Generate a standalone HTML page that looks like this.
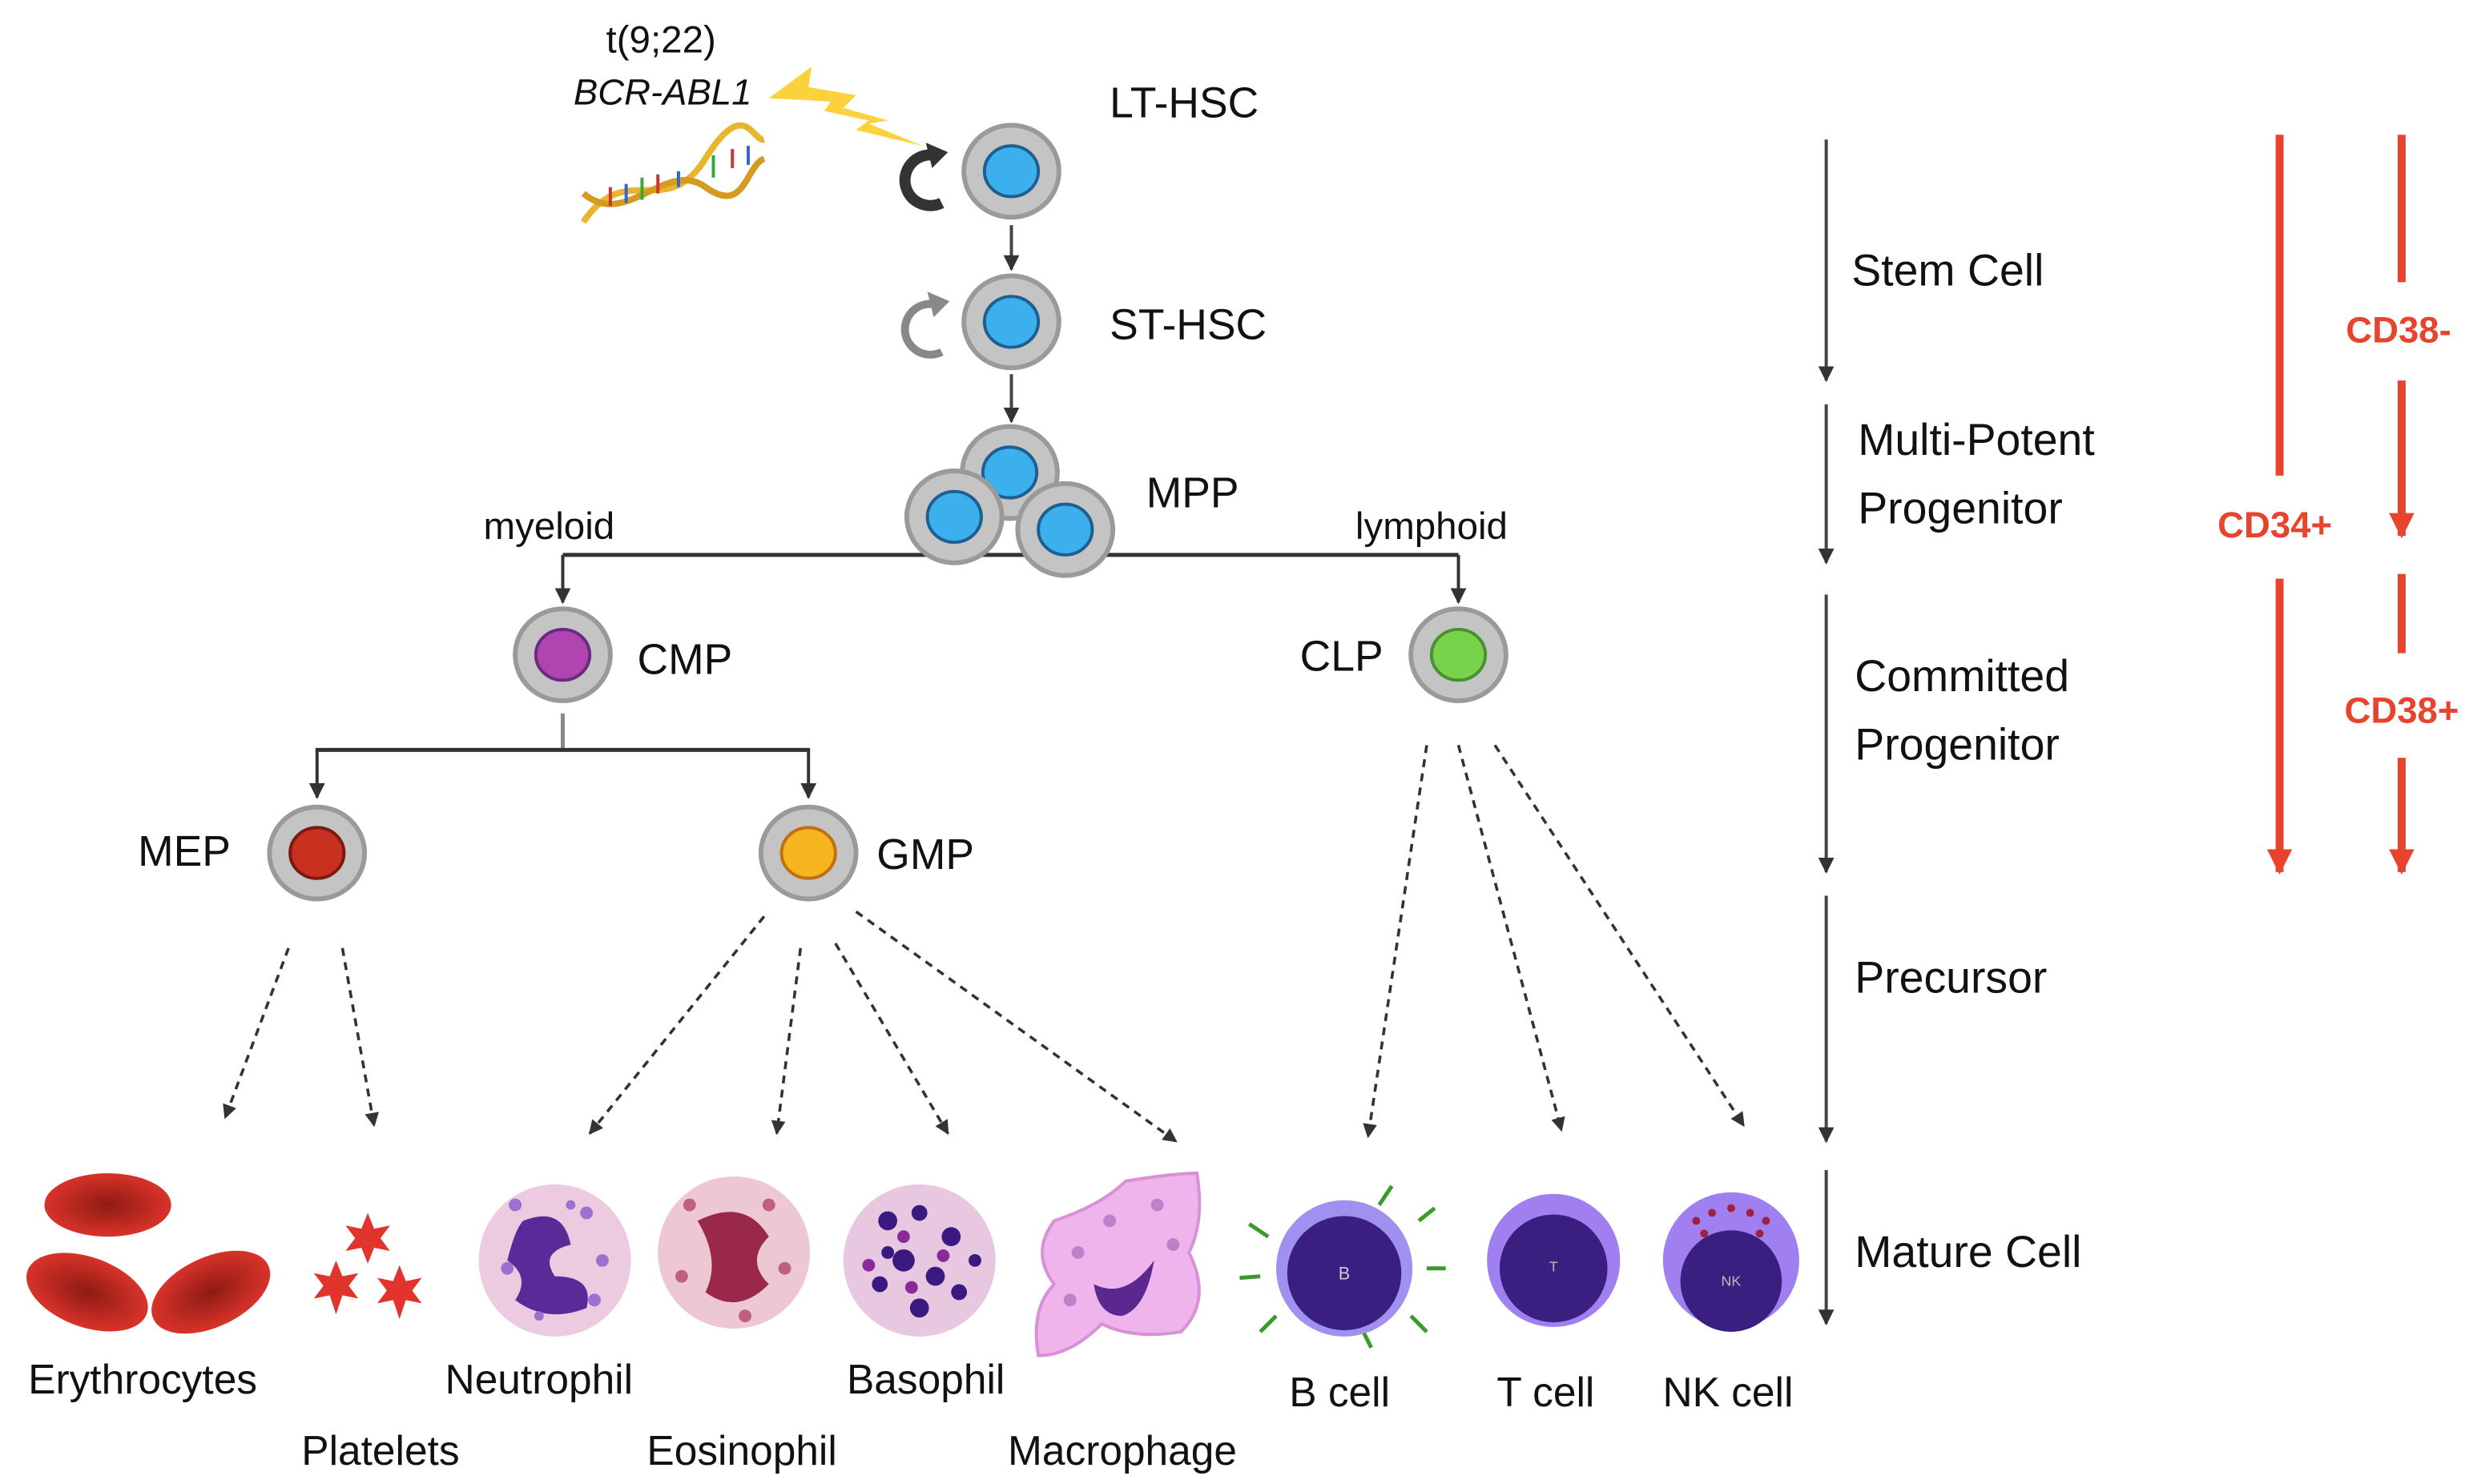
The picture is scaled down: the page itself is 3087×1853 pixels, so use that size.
<!DOCTYPE html>
<html><head><meta charset="utf-8"><style>
html,body{margin:0;padding:0;background:#fff;}
svg{display:block;}
text{font-family:"Liberation Sans",sans-serif;fill:#111;}
</style></head><body>
<svg width="3087" height="1853" viewBox="0 0 1560 936" preserveAspectRatio="none" xmlns="http://www.w3.org/2000/svg">
<defs>
<marker id="ah" viewBox="0 0 10 10" refX="9" refY="5" markerWidth="5" markerHeight="5" orient="auto"><path d="M0,0 L10,5 L0,10 z" fill="#333"/></marker>
<marker id="rh" viewBox="0 0 10 10" refX="9" refY="5" markerWidth="3.2" markerHeight="3.2" orient="auto"><path d="M0,0 L10,5 L0,10 z" fill="#e8432c"/></marker>
<g id="cell"><ellipse cx="0" cy="0" rx="30" ry="29" fill="#c4c4c4" stroke="#9a9a9a" stroke-width="3"/></g>
<radialGradient id="rbc" cx="50%" cy="50%" r="50%"><stop offset="0" stop-color="#8e1a12"/><stop offset="1" stop-color="#d8332a"/></radialGradient>
</defs>

<!-- top annotations -->
<text x="417" y="33" font-size="24" text-anchor="middle">t(9;22)</text>
<text x="418" y="66" font-size="23" font-style="italic" text-anchor="middle">BCR-ABL1</text>
<polygon points="485,62 512,42 510,55 540,60 532,68 560,76 548,78 582,92 540,82 548,76 520,70 524,64" fill="#fcd23c"/>
<!-- DNA -->
<g stroke-width="4" fill="none">
<path d="M368,140 C395,100 420,140 445,100 S475,90 482,88" stroke="#e7b62c"/>
<path d="M368,122 C395,145 420,100 445,118 S470,105 482,100" stroke="#d59a20"/>
</g>
<g stroke-width="2">
<line x1="385" y1="118" x2="385" y2="130" stroke="#c33"/><line x1="395" y1="116" x2="395" y2="128" stroke="#36c"/>
<line x1="405" y1="112" x2="405" y2="126" stroke="#3a3"/><line x1="415" y1="110" x2="415" y2="122" stroke="#c33"/>
<line x1="428" y1="108" x2="428" y2="118" stroke="#36c"/><line x1="450" y1="98" x2="450" y2="112" stroke="#3a3"/>
<line x1="462" y1="94" x2="462" y2="106" stroke="#c33"/><line x1="472" y1="92" x2="472" y2="104" stroke="#36c"/>
</g>

<!-- LT-HSC -->
<path d="M590,98 A16,16 0 1 0 594,128" fill="none" stroke="#333" stroke-width="7"/>
<polygon points="584,90 598,96 588,106" fill="#333"/>
<use href="#cell" x="638" y="108"/>
<ellipse cx="638" cy="108" rx="17" ry="16" fill="#3cb0ec" stroke="#1e5e90" stroke-width="2"/>
<text x="700" y="74" font-size="27">LT-HSC</text>
<line x1="638" y1="142" x2="638" y2="170" stroke="#444" stroke-width="2" marker-end="url(#ah)"/>

<!-- ST-HSC -->
<path d="M590,192 A16,16 0 1 0 594,222" fill="none" stroke="#888" stroke-width="5"/>
<polygon points="585,184 599,190 589,200" fill="#888"/>
<use href="#cell" x="638" y="203"/>
<ellipse cx="638" cy="203" rx="17" ry="16" fill="#3cb0ec" stroke="#1e5e90" stroke-width="2"/>
<text x="700" y="214" font-size="27">ST-HSC</text>
<line x1="638" y1="236" x2="638" y2="266" stroke="#444" stroke-width="2" marker-end="url(#ah)"/>

<!-- branch line -->
<line x1="355" y1="350" x2="920" y2="350" stroke="#333" stroke-width="2.5"/>
<line x1="355" y1="350" x2="355" y2="380" stroke="#333" stroke-width="2" marker-end="url(#ah)"/>
<line x1="920" y1="350" x2="920" y2="380" stroke="#333" stroke-width="2" marker-end="url(#ah)"/>

<!-- MPP -->
<use href="#cell" x="637" y="298"/><ellipse cx="637" cy="298" rx="17" ry="16" fill="#3cb0ec" stroke="#1e5e90" stroke-width="2"/>
<use href="#cell" x="602" y="326"/><ellipse cx="602" cy="326" rx="17" ry="16" fill="#3cb0ec" stroke="#1e5e90" stroke-width="2"/>
<use href="#cell" x="672" y="334"/><ellipse cx="672" cy="334" rx="17" ry="16" fill="#3cb0ec" stroke="#1e5e90" stroke-width="2"/>
<text x="723" y="320" font-size="27">MPP</text>
<text x="305" y="340" font-size="24">myeloid</text>
<text x="855" y="340" font-size="24">lymphoid</text>

<!-- CMP / CLP -->
<use href="#cell" x="355" y="413"/><ellipse cx="355" cy="413" rx="17" ry="16" fill="#b044b0" stroke="#6a2a80" stroke-width="2"/>
<text x="402" y="425" font-size="27">CMP</text>
<use href="#cell" x="920" y="413"/><ellipse cx="920" cy="413" rx="17" ry="16" fill="#78d24c" stroke="#4a9030" stroke-width="2"/>
<text x="820" y="423" font-size="27">CLP</text>

<line x1="355" y1="450" x2="355" y2="473" stroke="#888" stroke-width="2.5"/>
<line x1="199" y1="473" x2="511" y2="473" stroke="#333" stroke-width="2.5"/>
<line x1="200" y1="473" x2="200" y2="503" stroke="#333" stroke-width="2" marker-end="url(#ah)"/>
<line x1="510" y1="473" x2="510" y2="503" stroke="#333" stroke-width="2" marker-end="url(#ah)"/>

<!-- MEP / GMP -->
<use href="#cell" x="200" y="538"/><ellipse cx="200" cy="538" rx="17" ry="16" fill="#c83020" stroke="#7a1a10" stroke-width="2"/>
<text x="87" y="546" font-size="27">MEP</text>
<use href="#cell" x="510" y="538"/><ellipse cx="510" cy="538" rx="17" ry="16" fill="#f6b41e" stroke="#c07010" stroke-width="2"/>
<text x="553" y="548" font-size="27">GMP</text>

<!-- dashed arrows -->
<g stroke="#333" stroke-width="1.8" stroke-dasharray="5,4" marker-end="url(#ah)">
<line x1="182" y1="598" x2="142" y2="705"/>
<line x1="216" y1="598" x2="236" y2="710"/>
<line x1="482" y1="578" x2="372" y2="715"/>
<line x1="505" y1="598" x2="490" y2="715"/>
<line x1="527" y1="595" x2="598" y2="715"/>
<line x1="540" y1="575" x2="742" y2="720"/>
<line x1="900" y1="470" x2="863" y2="717"/>
<line x1="920" y1="470" x2="985" y2="713"/>
<line x1="943" y1="470" x2="1100" y2="710"/>
</g>

<!-- mature cells -->
<ellipse cx="68" cy="760" rx="40" ry="20" fill="url(#rbc)"/>
<ellipse cx="55" cy="815" rx="40" ry="22" fill="url(#rbc)" transform="rotate(20 55 815)"/>
<ellipse cx="133" cy="815" rx="40" ry="22" fill="url(#rbc)" transform="rotate(-25 133 815)"/>
<g fill="#e0342c">
<polygon points="232,765 236,775 246,773 240,781 246,789 236,787 232,797 228,787 218,789 224,781 218,773 228,775"/>
<polygon points="212,795 216,805 226,803 220,811 226,819 216,817 212,829 208,817 198,819 204,811 198,803 208,805"/>
<polygon points="252,798 256,808 266,806 260,814 266,822 256,820 252,832 248,820 238,822 244,814 238,806 248,808"/>
</g>
<!-- neutrophil -->
<circle cx="350" cy="795" r="48" fill="#eccbe0"/>
<path d="M330,770 q25,-10 30,15 q-20,5 -10,20 q25,0 20,20 q-25,10 -45,-5 q10,-15 -5,-25 q5,-20 10,-25z" fill="#5a2a98"/>
<g fill="#9a70d0"><circle cx="325" cy="760" r="4"/><circle cx="370" cy="765" r="4"/><circle cx="380" cy="795" r="4"/><circle cx="320" cy="800" r="4"/><circle cx="360" cy="760" r="3"/><circle cx="375" cy="820" r="4"/><circle cx="340" cy="830" r="3"/></g>
<!-- eosinophil -->
<circle cx="463" cy="790" r="48" fill="#edc8d4"/>
<path d="M440,770 q30,-15 45,10 q-15,15 0,30 q-20,20 -40,5 q10,-20 -5,-45z" fill="#9a2848"/>
<g fill="#c0607c"><circle cx="435" cy="760" r="4"/><circle cx="485" cy="760" r="4"/><circle cx="430" cy="805" r="4"/><circle cx="495" cy="800" r="4"/><circle cx="470" cy="830" r="4"/></g>
<!-- basophil -->
<circle cx="580" cy="795" r="48" fill="#e8c8e0"/>
<g fill="#3a1a80"><circle cx="560" cy="770" r="6"/><circle cx="580" cy="765" r="5"/><circle cx="600" cy="780" r="6"/><circle cx="570" cy="795" r="7"/><circle cx="590" cy="805" r="6"/><circle cx="555" cy="810" r="5"/><circle cx="605" cy="815" r="5"/><circle cx="580" cy="825" r="6"/><circle cx="560" cy="790" r="4"/><circle cx="615" cy="795" r="4"/></g>
<g fill="#8a2a9a"><circle cx="570" cy="780" r="4"/><circle cx="595" cy="792" r="4"/><circle cx="575" cy="812" r="4"/><circle cx="548" cy="798" r="4"/></g>
<!-- macrophage -->
<path d="M665,770 q30,-10 45,-25 q30,-5 45,-5 q5,30 -5,50 q15,30 -5,50 q-30,5 -50,-5 q-20,20 -40,20 q-5,-30 10,-45 q-15,-20 0,-40z" fill="#f0b4ec" stroke="#d890d8" stroke-width="2"/>
<path d="M690,810 q20,10 38,-15 q-5,30 -20,35 q-15,0 -18,-20z" fill="#5a2890"/>
<g fill="#c080c8"><circle cx="700" cy="770" r="4"/><circle cx="730" cy="760" r="4"/><circle cx="680" cy="790" r="4"/><circle cx="740" cy="785" r="4"/><circle cx="675" cy="820" r="4"/></g>
<!-- B cell -->
<g stroke="#3a9a2a" stroke-width="2.5"><line x1="800" y1="780" x2="788" y2="772"/><line x1="795" y1="805" x2="782" y2="806"/><line x1="805" y1="830" x2="795" y2="840"/><line x1="895" y1="770" x2="905" y2="762"/><line x1="900" y1="800" x2="912" y2="800"/><line x1="890" y1="830" x2="900" y2="840"/><line x1="870" y1="760" x2="878" y2="748"/><line x1="860" y1="840" x2="865" y2="850"/></g>
<circle cx="848" cy="800" r="43" fill="#a090f0"/>
<circle cx="848" cy="803" r="36" fill="#3a1e80"/>
<text x="848" y="807" font-size="11" fill="#ccc" text-anchor="middle" style="fill:#ccc">B</text>
<!-- T cell -->
<circle cx="980" cy="795" r="42" fill="#a080f0"/>
<circle cx="980" cy="800" r="34" fill="#3a1e80"/>
<text x="980" y="802" font-size="9" text-anchor="middle" style="fill:#bbb">T</text>
<!-- NK cell -->
<circle cx="1092" cy="795" r="43" fill="#a080f0"/>
<circle cx="1092" cy="808" r="32" fill="#3a1e80"/>
<g fill="#a02040"><circle cx="1070" cy="770" r="2.5"/><circle cx="1080" cy="765" r="2.5"/><circle cx="1092" cy="762" r="2.5"/><circle cx="1104" cy="765" r="2.5"/><circle cx="1114" cy="770" r="2.5"/><circle cx="1075" cy="778" r="2.5"/><circle cx="1110" cy="778" r="2.5"/></g>
<text x="1092" y="811" font-size="9" text-anchor="middle" style="fill:#bbb">NK</text>

<!-- mature labels -->
<g font-size="26">
<text x="90" y="879" text-anchor="middle">Erythrocytes</text>
<text x="240" y="924" text-anchor="middle">Platelets</text>
<text x="340" y="879" text-anchor="middle">Neutrophil</text>
<text x="468" y="924" text-anchor="middle">Eosinophil</text>
<text x="584" y="879" text-anchor="middle">Basophil</text>
<text x="708" y="924" text-anchor="middle">Macrophage</text>
<text x="845" y="887" text-anchor="middle">B cell</text>
<text x="975" y="887" text-anchor="middle">T cell</text>
<text x="1090" y="887" text-anchor="middle">NK cell</text>
</g>

<!-- right axis -->
<g stroke="#444" stroke-width="2" marker-end="url(#ah)">
<line x1="1152" y1="88" x2="1152" y2="240"/>
<line x1="1152" y1="255" x2="1152" y2="355"/>
<line x1="1152" y1="375" x2="1152" y2="550"/>
<line x1="1152" y1="565" x2="1152" y2="720"/>
<line x1="1152" y1="738" x2="1152" y2="835"/>
</g>
<g font-size="28">
<text x="1168" y="180">Stem Cell</text>
<text x="1172" y="287">Multi-Potent</text>
<text x="1172" y="330">Progenitor</text>
<text x="1170" y="436">Committed</text>
<text x="1170" y="479">Progenitor</text>
<text x="1170" y="626">Precursor</text>
<text x="1170" y="799">Mature Cell</text>
</g>

<!-- red CD arrows -->
<g stroke="#e8432c" stroke-width="5" fill="none">
<line x1="1438" y1="85" x2="1438" y2="300"/>
<line x1="1438" y1="365" x2="1438" y2="550" marker-end="url(#rh)"/>
<line x1="1515" y1="85" x2="1515" y2="178"/>
<line x1="1515" y1="240" x2="1515" y2="338" marker-end="url(#rh)"/>
<line x1="1515" y1="362" x2="1515" y2="412"/>
<line x1="1515" y1="478" x2="1515" y2="550" marker-end="url(#rh)"/>
</g>
<g font-size="23" font-weight="bold" text-anchor="middle" style="fill:#e8432c">
<text x="1435" y="339" style="fill:#e8432c">CD34+</text>
<text x="1513" y="216" style="fill:#e8432c">CD38-</text>
<text x="1515" y="456" style="fill:#e8432c">CD38+</text>
</g>
</svg>
</body></html>
